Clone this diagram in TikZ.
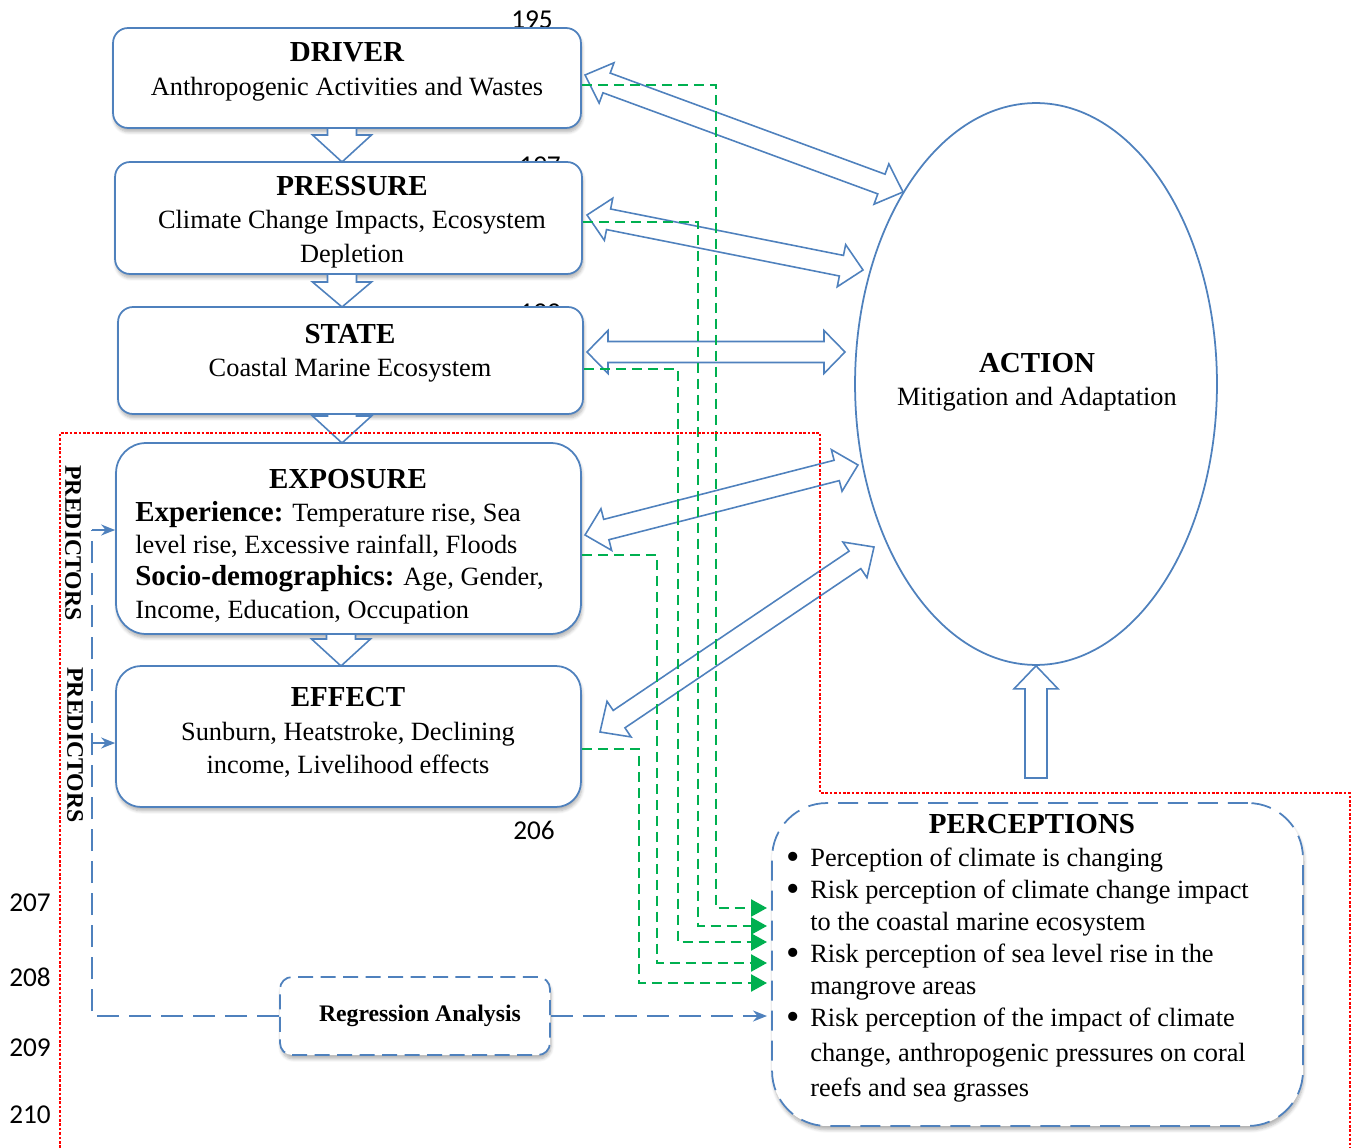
\documentclass[tikz,border=0pt]{standalone}
\usepackage{fontspec}
\usepackage{graphicx}
\setmainfont{Liberation Serif}
\newfontfamily\linenofont{Carlito}
\usetikzlibrary{calc,arrows.meta,shapes.geometric,shadows.blur}

\definecolor{boxblue}{HTML}{4F81BD}
\definecolor{flowgreen}{HTML}{00B050}

\tikzset{
  dpsir/.style={draw=boxblue, line width=1pt, fill=white, rounded corners=0.3cm, inner sep=0pt,
    blur shadow={shadow xshift=0.6pt, shadow yshift=-2.2pt, shadow blur steps=6, shadow opacity=30}},
  bodytxt/.style={font=\fontsize{15}{19}\selectfont, inner sep=0pt, align=center},
  blockarrow/.style={draw=boxblue, line width=0.9pt, fill=white, line join=miter},
  greenflow/.style={draw=flowgreen, line width=1.4pt, dash pattern=on 0.2cm off 0.12cm,
    -{Triangle[length=0.32cm,width=0.34cm]}},
  bluedash/.style={draw=boxblue, line width=1.2pt, dash pattern=on 0.44cm off 0.2cm},
  bluetip/.style={draw=boxblue, line width=1.2pt, -{Stealth[length=0.28cm,width=0.22cm]}},
  redzone/.style={draw=red, line width=0.6pt, dash pattern=on 1.5pt off 1pt},
  lineno/.style={font=\linenofont\fontsize{15.5}{18}\selectfont, inner sep=0pt},
  predlabel/.style={rotate=-90, inner sep=0pt, font=\bfseries\fontsize{13.5}{16}\selectfont},
}

% hollow block arrow, both heads: ends #1 #2, shaft half width #3, head half width #4, head length #5
\newcommand{\dblarrow}[5]{%
  \draw[blockarrow] (#1)
    -- ($(#1)!#5!(#2)!#4!90:(#2)$) -- ($(#1)!#5!(#2)!#3!90:(#2)$)
    -- ($(#2)!#5!(#1)!#3!-90:(#1)$) -- ($(#2)!#5!(#1)!#4!-90:(#1)$)
    -- (#2)
    -- ($(#2)!#5!(#1)!#4!90:(#1)$) -- ($(#2)!#5!(#1)!#3!90:(#1)$)
    -- ($(#1)!#5!(#2)!#3!-90:(#2)$) -- ($(#1)!#5!(#2)!#4!-90:(#2)$)
    -- cycle;}
% hollow block arrow, one head at #2
\newcommand{\onearrow}[5]{%
  \draw[blockarrow] ($(#1)!#3!90:(#2)$)
    -- ($(#2)!#5!(#1)!#3!-90:(#1)$) -- ($(#2)!#5!(#1)!#4!-90:(#1)$)
    -- (#2)
    -- ($(#2)!#5!(#1)!#4!90:(#1)$) -- ($(#2)!#5!(#1)!#3!90:(#1)$)
    -- ($(#1)!#3!-90:(#2)$) -- cycle;}
\newcommand{\perbullet}{\makebox[0.48cm][l]{\smash{\raisebox{-0.1em}{\scalebox{1.45}{\textbullet}}}}}

\begin{document}
\begin{tikzpicture}[x=0.02cm, y=-0.02cm]
  \useasboundingbox (0,0) rectangle (1351,1148);

  % line numbers of the page
  \node[lineno] (n195) at (532,20) {195};
  \node[lineno] (n197) at (540,166) {197};
  \node[lineno] (n199) at (540,313) {199};
  \node[lineno] (n206) at (534,830) {206};
  \node[lineno] (n207) at (30,903) {207};
  \node[lineno] (n208) at (30,977) {208};
  \node[lineno] (n209) at (30,1048) {209};
  \node[lineno] (n210) at (30,1115) {210};

  % DPSIR boxes
  \node[dpsir, minimum width=9.36cm, minimum height=2cm] (driver) at (347,78) {};
  \node[dpsir, minimum width=9.34cm, minimum height=2.24cm] (pressure) at (348.5,218) {};
  \node[dpsir, minimum width=9.3cm, minimum height=2.14cm] (state) at (350.5,360.5) {};
  \node[dpsir, minimum width=9.3cm, minimum height=3.82cm, rounded corners=0.6cm] (exposure) at (348.5,538.5) {};
  \node[dpsir, minimum width=9.3cm, minimum height=2.82cm, rounded corners=0.5cm] (effect) at (348.5,736.5) {};

  \node[bodytxt] (drivertxt) at (347,72) {{\bfseries\fontsize{16.5}{19}\selectfont DRIVER}\\Anthropogenic Activities and Wastes};
  \node[bodytxt] (pressuretxt) at (352,222) {{\bfseries\fontsize{16.5}{19}\selectfont PRESSURE}\\Climate Change Impacts, Ecosystem\\Depletion};
  \node[bodytxt] (statetxt) at (350,353) {{\bfseries\fontsize{16.5}{19}\selectfont STATE}\\Coastal Marine Ecosystem};
  \node[bodytxt] (exposuretitle) at (348,479) {\bfseries\fontsize{16.5}{19}\selectfont EXPOSURE};
  \node[bodytxt, align=left, anchor=west, font=\fontsize{15}{18.4}\selectfont] (exposuretxt) at (135,562.5)
    {{\bfseries\fontsize{16.5}{18.4}\selectfont Experience:} Temperature rise, Sea\\
     level rise, Excessive rainfall, Floods\\
     {\bfseries\fontsize{16.5}{18.4}\selectfont Socio-demographics:} Age, Gender,\\
     Income, Education, Occupation};
  \node[bodytxt] (effecttxt) at (348,732.5) {{\bfseries\fontsize{16.5}{19}\selectfont EFFECT}\\Sunburn, Heatstroke, Declining\\income, Livelihood effects};

  % action
  \node[ellipse, draw=boxblue, line width=1pt, fill=white, minimum width=7.24cm, minimum height=11.24cm,
    inner sep=0pt] (action) at (1036,384) {};
  \node[bodytxt] (actiontxt) at (1037,382) {{\bfseries\fontsize{16.5}{19}\selectfont ACTION}\\Mitigation and Adaptation};

  % perceptions
  \node[dpsir, dash pattern=on 0.4cm off 0.2cm, minimum width=10.62cm, minimum height=6.46cm,
    rounded corners=1.1cm] (percep) at (1037.5,964.5) {};
  \node[bodytxt] (perceptitle) at (1032,824) {\bfseries\fontsize{16.5}{19}\selectfont PERCEPTIONS};
  \node[bodytxt, align=left, anchor=west, font=\fontsize{15}{18.2}\selectfont] (perceplist) at (786,975)
    {\perbullet Perception of climate is changing\\
     \perbullet Risk perception of climate change impact\\
     \hspace*{0.48cm}to the coastal marine ecosystem\\
     \perbullet Risk perception of sea level rise in the\\
     \hspace*{0.48cm}mangrove areas\\
     \perbullet Risk perception of the impact of climate\\[1.6pt]
     \hspace*{0.48cm}change, anthropogenic pressures on coral\\[1.6pt]
     \hspace*{0.48cm}reefs and sea grasses};

  % block arrows
  \coordinate (d1) at (342,128); \coordinate (d2) at (342,162);
  \coordinate (d3) at (342,274); \coordinate (d4) at (342,307);
  \coordinate (d5) at (342,414); \coordinate (d6) at (342,443);
  \coordinate (d7) at (341,634); \coordinate (d8) at (341,666);
  \onearrow{d1}{d2}{0.29cm}{0.59cm}{0.54cm}
  \onearrow{d3}{d4}{0.29cm}{0.59cm}{0.5cm}
  \onearrow{d5}{d6}{0.29cm}{0.59cm}{0.54cm}
  \onearrow{d7}{d8}{0.29cm}{0.59cm}{0.54cm}

  \coordinate (a1) at (585,75);  \coordinate (b1) at (903,192);
  \coordinate (a2) at (587,215); \coordinate (b2) at (863,270);
  \coordinate (a3) at (587,352); \coordinate (b3) at (845,352);
  \coordinate (a4) at (585,535); \coordinate (b4) at (858,465);
  \coordinate (a5) at (600,732); \coordinate (b5) at (874,547);
  \dblarrow{a1}{b1}{0.21cm}{0.43cm}{0.46cm}
  \dblarrow{a2}{b2}{0.21cm}{0.43cm}{0.44cm}
  \dblarrow{a3}{b3}{0.21cm}{0.43cm}{0.42cm}
  \dblarrow{a4}{b4}{0.21cm}{0.43cm}{0.44cm}
  \dblarrow{a5}{b5}{0.21cm}{0.43cm}{0.46cm}

  \coordinate (u1) at (1036,778); \coordinate (u2) at (action.south);
  \onearrow{u1}{u2}{0.22cm}{0.44cm}{0.46cm}

  % green links into perceptions
  \coordinate (in1) at (767,908);
  \coordinate (in2) at (767,926);
  \coordinate (in3) at (767,942);
  \coordinate (in4) at (767,963);
  \coordinate (in5) at (767,983);
  \draw[greenflow] (driver.east |- 0,85) -| (716,908) -- (in1);
  \draw[greenflow] (pressure.east |- 0,222) -| (698,926) -- (in2);
  \draw[greenflow] (state.east |- 0,369) -| (678,942) -- (in3);
  \draw[greenflow] (exposure.east |- 0,555) -| (657,963) -- (in4);
  \draw[greenflow] (effect.east |- 0,749) -| (639,983) -- (in5);

  % red zone
  \draw[redzone] (60,1148) -- (60,433) -- (820,433) -- (820,793) -- (1350,793) -- (1350,1148);

  % predictors and regression
  \node[predlabel] (pred1) at (73,543) {PREDICTORS};
  \node[predlabel] (pred2) at (75,745) {PREDICTORS};
  \node[dpsir, dash pattern=on 0.3cm off 0.15cm, minimum width=5.4cm, minimum height=1.56cm,
    rounded corners=0.24cm, font=\bfseries\fontsize{13.5}{16}\selectfont] (reg) at (415,1016)
    {\hspace*{0.2cm}Regression Analysis};
  \coordinate (p1) at (92,530);
  \coordinate (p2) at (92,743);
  \draw[bluedash] (reg.west) -| (p1);
  \draw[bluetip] (p1) -- (p1 -| exposure.west);
  \draw[bluetip] (p2) -- (p2 -| effect.west);
  \draw[bluedash, bluetip] (reg.east) -- (reg.east -| 767,0);
\end{tikzpicture}
\end{document}
